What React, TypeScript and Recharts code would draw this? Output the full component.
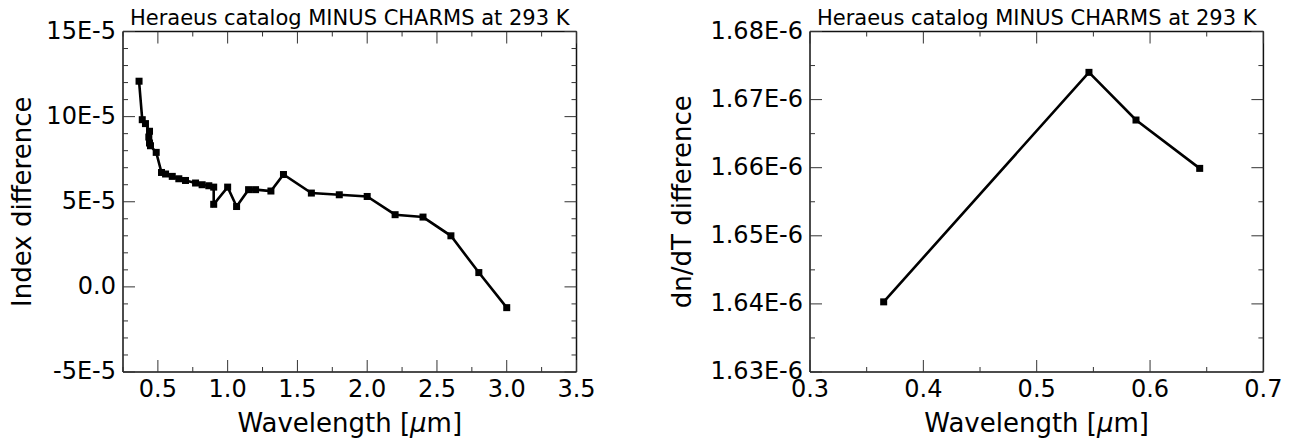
import React from 'react';
import { LineChart, Line, XAxis, YAxis } from 'recharts';

// ---- Left panel: Index difference (units of 1E-5) vs wavelength [um]
const wavelengthsLeft = [0.365, 0.388, 0.411, 0.44, 0.435, 0.44, 0.447, 0.488, 0.526, 0.555, 0.603, 0.65, 0.698, 0.77, 0.817, 0.865, 0.9, 0.9, 1.0, 1.064, 1.15, 1.2, 1.31, 1.4, 1.6, 1.8, 2.0, 2.2, 2.4, 2.6, 2.8, 3.0];
const indexDiffE5 = [12.08, 9.82, 9.59, 9.14, 8.8, 8.45, 8.29, 7.9, 6.72, 6.63, 6.49, 6.35, 6.25, 6.1, 6.0, 5.94, 5.86, 4.85, 5.86, 4.72, 5.71, 5.71, 5.63, 6.6, 5.51, 5.41, 5.31, 4.24, 4.1, 3.0, 0.84, -1.22];

const leftXTicks = [0.25, 0.5, 0.75, 1.0, 1.25, 1.5, 1.75, 2.0, 2.25, 2.5, 2.75, 3.0, 3.25, 3.5];
const leftXMajor = [0.5, 1.0, 1.5, 2.0, 2.5, 3.0, 3.5];
const leftXLabels = ['0.5', '1.0', '1.5', '2.0', '2.5', '3.0', '3.5'];
const leftYTicks = [-5, -4, -3, -2, -1, 0, 1, 2, 3, 4, 5, 6, 7, 8, 9, 10, 11, 12, 13, 14, 15];
const leftYMajor = [-5, 0, 5, 10, 15];
const leftYLabels = ['-5E-5', '0.0', '5E-5', '10E-5', '15E-5'];

// ---- Right panel: dn/dT difference (units of 1E-6) vs wavelength [um]
const wavelengthsRight = [0.365, 0.5461, 0.5876, 0.6438];
const dndTDiffE6 = [1.6403, 1.674, 1.667, 1.6599];

const rightXTicks = [0.3, 0.35, 0.4, 0.45, 0.5, 0.55, 0.6, 0.65, 0.7];
const rightXMajor = [0.3, 0.4, 0.5, 0.6, 0.7];
const rightXLabels = ['0.3', '0.4', '0.5', '0.6', '0.7'];
const rightYTicks = [1.63, 1.635, 1.64, 1.645, 1.65, 1.655, 1.66, 1.665, 1.67, 1.675, 1.68];
const rightYMajor = [1.63, 1.64, 1.65, 1.66, 1.67, 1.68];
const rightYLabels = ['1.63E-6', '1.64E-6', '1.65E-6', '1.66E-6', '1.67E-6', '1.68E-6'];

const TITLE = 'Heraeus catalog MINUS CHARMS at 293 K';
const FONT = '"DejaVu Sans", sans-serif';

const leftData = wavelengthsLeft.map((x, i) => ({ x, y: indexDiffE5[i] }));
const rightData = wavelengthsRight.map((x, i) => ({ x, y: dndTDiffE6[i] }));

const MAJOR_LEN = 12;
const MINOR_LEN = 5;

function makeTick(side: string, majors: number[], labels: string[] | null) {
  return (props: any) => {
    const { x, y, payload } = props;
    const v = payload.value;
    const mi = majors.findIndex((m) => Math.abs(m - v) < 1e-9);
    const len = mi >= 0 ? MAJOR_LEN : MINOR_LEN;
    let line: any = null;
    let text: any = null;
    const ls = { stroke: '#333', strokeWidth: 1 };
    if (side === 'bottom') {
      line = <line x1={x} y1={y} x2={x} y2={y - len} {...ls} />;
      if (mi >= 0 && labels)
        text = (
          <text x={x} y={y + 25} textAnchor="middle" fontSize={24} fontFamily={FONT} fill="#000">
            {labels[mi]}
          </text>
        );
    } else if (side === 'top') {
      line = <line x1={x} y1={y} x2={x} y2={y + len} {...ls} />;
    } else if (side === 'left') {
      line = <line x1={x} y1={y} x2={x + len} y2={y} {...ls} />;
      if (mi >= 0 && labels)
        text = (
          <text x={x - 7} y={y + 7} textAnchor="end" fontSize={24} fontFamily={FONT} fill="#000">
            {labels[mi]}
          </text>
        );
    } else {
      line = <line x1={x} y1={y} x2={x - len} y2={y} {...ls} />;
    }
    return (
      <g>
        {line}
        {text}
      </g>
    );
  };
}

const squareDot = (props: any) => {
  const { cx, cy, index } = props;
  if (cx == null || cy == null) return <g key={`d${index}`} />;
  return <rect key={`d${index}`} x={cx - 3.5} y={cy - 3.5} width={7} height={7} fill="#000" />;
};

const titleLabel = (props: any) => {
  const vb = props.viewBox || {};
  return (
    <text x={vb.x + vb.width / 2} y={vb.y + (vb.height || 0) - 7} textAnchor="middle" fontSize={21} fontFamily={FONT} fill="#000">
      {TITLE}
    </text>
  );
};

const xLabel = (props: any) => {
  const vb = props.viewBox || {};
  return (
    <text x={vb.x + vb.width / 2} y={vb.y + 60} textAnchor="middle" fontSize={26} fontFamily={FONT} fill="#000">
      Wavelength [<tspan fontStyle="italic">μ</tspan>m]
    </text>
  );
};

const makeYLabel = (text: string, dx: number) => (props: any) => {
  const vb = props.viewBox || {};
  const cx = vb.x + (vb.width || 0) - dx;
  const cy = vb.y + vb.height / 2;
  return (
    <text x={cx} y={cy} transform={`rotate(-90, ${cx}, ${cy})`} textAnchor="middle" fontSize={26} fontFamily={FONT} fill="#000">
      {text}
    </text>
  );
};

const frame = { stroke: '#111', strokeWidth: 1.5 };

function Panel(props: {
  data: any[];
  width: number;
  margin: any;
  xDomain: [number, number];
  yDomain: [number, number];
  xTicks: number[];
  xMajor: number[];
  xLabels: string[];
  yTicks: number[];
  yMajor: number[];
  yLabels: string[];
  yTitle: string;
  yTitleDx: number;
}) {
  const p = props;
  return (
    <LineChart width={p.width} height={440} data={p.data} margin={p.margin}>
      <XAxis
        xAxisId="b"
        type="number"
        dataKey="x"
        orientation="bottom"
        domain={p.xDomain}
        allowDataOverflow
        ticks={p.xTicks}
        interval={0}
        height={1}
        tickSize={0}
        tickMargin={0}
        tickLine={false}
        axisLine={frame}
        tick={makeTick('bottom', p.xMajor, p.xLabels)}
        label={xLabel}
      />
      <XAxis
        xAxisId="t"
        type="number"
        dataKey="x"
        orientation="top"
        domain={p.xDomain}
        allowDataOverflow
        ticks={p.xTicks}
        interval={0}
        height={1}
        tickSize={0}
        tickMargin={0}
        tickLine={false}
        axisLine={frame}
        tick={makeTick('top', p.xMajor, null)}
        label={titleLabel}
      />
      <YAxis
        yAxisId="l"
        type="number"
        orientation="left"
        domain={p.yDomain}
        allowDataOverflow
        ticks={p.yTicks}
        interval={0}
        width={1}
        tickSize={0}
        tickMargin={0}
        tickLine={false}
        axisLine={frame}
        tick={makeTick('left', p.yMajor, p.yLabels)}
        label={makeYLabel(p.yTitle, p.yTitleDx)}
      />
      <YAxis
        yAxisId="r"
        type="number"
        orientation="right"
        domain={p.yDomain}
        allowDataOverflow
        ticks={p.yTicks}
        interval={0}
        width={1}
        tickSize={0}
        tickMargin={0}
        tickLine={false}
        axisLine={frame}
        tick={makeTick('right', p.yMajor, null)}
      />
      <Line
        xAxisId="b"
        yAxisId="l"
        type="linear"
        dataKey="y"
        stroke="#000"
        strokeWidth={2.6}
        dot={squareDot}
        activeDot={false}
        isAnimationActive={false}
      />
    </LineChart>
  );
}

export default function App() {
  return (
    <div style={{ position: 'absolute', left: 0, top: 0, width: 1294, height: 440, background: '#fff' }}>
      <div style={{ position: 'absolute', left: 0, top: 0 }}>
        <Panel
          data={leftData}
          width={600}
          margin={{ top: 30.5, left: 122, right: 22.5, bottom: 67 }}
          xDomain={[0.25, 3.5]}
          yDomain={[-5, 15]}
          xTicks={leftXTicks}
          xMajor={leftXMajor}
          xLabels={leftXLabels}
          yTicks={leftYTicks}
          yMajor={leftYMajor}
          yLabels={leftYLabels}
          yTitle="Index difference"
          yTitleDx={92}
        />
      </div>
      <div style={{ position: 'absolute', left: 640, top: 0 }}>
        <Panel
          data={rightData}
          width={654}
          margin={{ top: 30.5, left: 169, right: 29.6, bottom: 67 }}
          xDomain={[0.3, 0.7]}
          yDomain={[1.63, 1.68]}
          xTicks={rightXTicks}
          xMajor={rightXMajor}
          xLabels={rightXLabels}
          yTicks={rightYTicks}
          yMajor={rightYMajor}
          yLabels={rightYLabels}
          yTitle="dn/dT difference"
          yTitleDx={119.5}
        />
      </div>
    </div>
  );
}
